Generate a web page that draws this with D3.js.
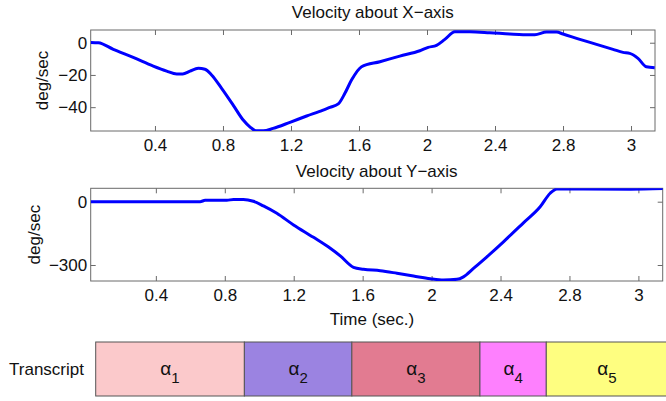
<!DOCTYPE html>
<html>
<head>
<meta charset="utf-8">
<script src="https://d3js.org/d3.v7.min.js"></script>
<style>
  body { margin: 0; background: #fff; }
  svg { display: block; font-family: "Liberation Sans", Arial, sans-serif; }
</style>
</head>
<body>
<svg id="chart" width="666" height="401"></svg>
<script>
// velocity about X-axis (deg/sec)
const timeX = [0.022, 0.067, 0.155, 0.272, 0.39, 0.469, 0.528, 0.563, 0.606, 0.655, 0.694, 0.733,
  0.792, 0.86, 0.919, 0.958, 0.994, 1.037, 1.095, 1.194, 1.292, 1.389, 1.429, 1.478, 1.517, 1.556,
  1.615, 1.723, 1.84, 1.958, 2.007, 2.056, 2.105, 2.164, 2.252, 2.369, 2.487, 2.565, 2.634, 2.703,
  2.762, 2.8, 2.899, 2.997, 3.094, 3.153, 3.192, 3.241, 3.29, 3.339];
const velX = [0.2, 0, -4.1, -9.1, -14.5, -17.6, -19.4, -19.4, -17.6, -15.9, -16.5, -20,
  -28.3, -38.7, -48, -52.2, -54.7, -54.7, -53.2, -49.4, -45.5, -41.8, -40.1, -38, -31.4, -23.2,
  -14.9, -11.8, -8.3, -5, -2.9, -1.6, 2.1, 6.8, 6.8, 6.2, 5.4, 5, 5, 6.6,
  6.6, 5.4, 2.1, -1, -4.1, -6, -6.6, -9.7, -14.9, -15.5];

// velocity about Y-axis (deg/sec)
const timeY = [0.023, 0.657, 0.686, 0.812, 0.85, 0.908, 0.966, 1.024, 1.102, 1.199, 1.315, 1.412,
  1.47, 1.547, 1.605, 1.702, 1.799, 1.895, 1.992, 2.069, 2.147, 2.185, 2.243, 2.321, 2.417, 2.533,
  2.63, 2.688, 2.727, 2.882, 3.153, 3.343];
const velY = [0, 0, 6.6, 6.6, 11, 11, 2, -20, -55, -110, -169, -221,
  -257, -311, -320, -327, -339, -352, -365, -371, -368, -356, -316, -261, -190, -100,
  -24, 40, 60, 60, 59, 62];

const xTickValues = [0.4, 0.8, 1.2, 1.6, 2.0, 2.4, 2.8, 3.2];
const xTickLabels = ["0.4", "0.8", "1.2", "1.6", "2", "2.4", "2.8", "3"];
const yTicksX = [-40, -20, 0];
const yTicksY = [-300, 0];

// transcript segments (fraction of the strip) and their labels
const segBounds = [0, 0.26, 0.448, 0.672, 0.788, 1.0];
const segSubs = ["1", "2", "3", "4", "5"];
const segColors = ["#fbc9cb", "#9b83e1", "#e27b91", "#fe80fe", "#fefe80"];

const svg = d3.select("#chart");
const fs = 17;
const frameCol = "#6a6a6a";

function panel(o) {
  const x = d3.scaleLinear().domain([0.022, 3.341]).range([o.left, o.right]);
  const y = d3.scaleLinear().domain(o.yDomain).range([o.bottom, o.top]);
  const g = svg.append("g");

  const clipId = "clip" + o.id;
  svg.append("clipPath").attr("id", clipId)
    .append("rect")
    .attr("x", o.left).attr("y", o.top)
    .attr("width", o.right - o.left).attr("height", o.bottom - o.top);

  const fmt = (d) => xTickLabels[xTickValues.indexOf(d)];

  const axes = [
    [d3.axisBottom(x).tickValues(xTickValues).tickFormat(fmt), "translate(0," + o.bottom + ")", true],
    [d3.axisTop(x).tickValues(xTickValues).tickFormat(""), "translate(0," + o.top + ")", false],
    [d3.axisLeft(y).tickValues(o.yTicks).tickFormat(d3.format("")), "translate(" + o.left + ",0)", true],
    [d3.axisRight(y).tickValues(o.yTicks).tickFormat(""), "translate(" + o.right + ",0)", false]
  ];
  axes.forEach(([ax, tr, lab], i) => {
    ax.tickSizeInner(-5).tickSizeOuter(0).tickPadding(i === 0 ? 8 : 3.5);
    const a = g.append("g").attr("transform", tr).call(ax);
    a.select(".domain").remove();
    a.selectAll("line").attr("stroke", frameCol);
    a.selectAll("text")
      .attr("font-size", fs)
      .attr("font-family", "Liberation Sans, Arial, sans-serif")
      .attr("fill", "#111")
      .text(function (d) { return d3.select(this).text().replace("-", "\u2212"); });
  });

  g.append("rect")
    .attr("x", o.left).attr("y", o.top)
    .attr("width", o.right - o.left).attr("height", o.bottom - o.top)
    .attr("fill", "none").attr("stroke", frameCol).attr("stroke-width", 1);

  const line = d3.line()
    .x((d, i) => x(o.t[i]))
    .y((d) => y(d))
    .curve(d3.curveMonotoneX);

  g.append("path")
    .datum(o.v)
    .attr("clip-path", "url(#" + clipId + ")")
    .attr("d", line)
    .attr("fill", "none")
    .attr("stroke", "#0000ff")
    .attr("stroke-width", 3)
    .attr("stroke-linejoin", "round");

  g.append("text")
    .attr("x", (o.left + o.right) / 2).attr("y", o.titleY)
    .attr("text-anchor", "middle").attr("font-size", fs).attr("fill", "#111")
    .text(o.title);

  g.append("text")
    .attr("transform", "translate(" + o.ylabX + "," + (o.top + o.bottom) / 2 + ") rotate(-90)")
    .attr("text-anchor", "middle").attr("font-size", fs).attr("fill", "#111")
    .text("deg/sec");
}

panel({
  id: "X", left: 90.7, right: 655, top: 30, bottom: 131,
  yDomain: [-54.8, 7.9], yTicks: yTicksX, t: timeX, v: velX,
  title: "Velocity about X\u2212axis", titleY: 18.3, ylabX: 48
});

panel({
  id: "Y", left: 90.7, right: 662.7, top: 188.3, bottom: 281,
  yDomain: [-375.8, 63.5], yTicks: yTicksY, t: timeY, v: velY,
  title: "Velocity about Y\u2212axis", titleY: 176.7, ylabX: 40
});

svg.append("text")
  .attr("x", 372).attr("y", 325)
  .attr("text-anchor", "middle").attr("font-size", fs).attr("fill", "#111")
  .text("Time (sec.)");

// transcript strip
const xs = d3.scaleLinear().domain([0, 1]).range([95.7, 667.5]);
const segs = segSubs.map((s, i) => ({ s: s, a: segBounds[i], b: segBounds[i + 1], c: segColors[i] }));

svg.selectAll("rect.seg")
  .data(segs)
  .join("rect")
  .attr("class", "seg")
  .attr("x", (d) => xs(d.a))
  .attr("y", 342)
  .attr("width", (d) => xs(d.b) - xs(d.a))
  .attr("height", 54)
  .attr("fill", (d) => d.c)
  .attr("stroke", "#555")
  .attr("stroke-width", 1);

const lab = svg.selectAll("text.seg")
  .data(segs)
  .join("text")
  .attr("class", "seg")
  .attr("x", (d) => (xs(d.a) + xs(d.b)) / 2)
  .attr("y", 375)
  .attr("text-anchor", "middle")
  .attr("fill", "#111");
lab.append("tspan").attr("font-size", 19).text("\u03b1");
lab.append("tspan").attr("font-size", 15).attr("dy", 8).text((d) => d.s);

svg.append("text")
  .attr("x", 84).attr("y", 374.5)
  .attr("text-anchor", "end").attr("font-size", fs).attr("fill", "#111")
  .text("Transcript");
</script>
</body>
</html>
